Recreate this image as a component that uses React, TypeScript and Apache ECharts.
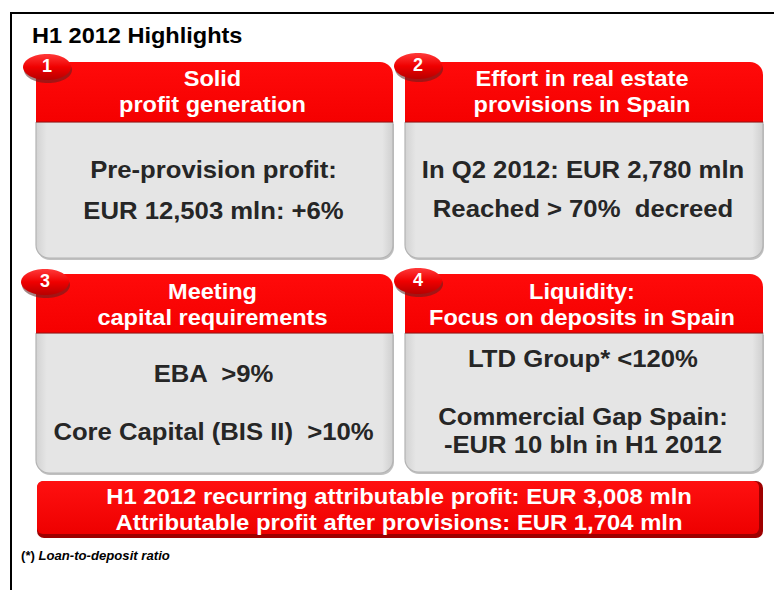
import React, { useEffect, useRef } from "react";
import * as echarts from "echarts";

const titleText = "H1 2012 Highlights";
const badgeNumbers = ["1", "2", "3", "4"];
const headerLines = [
  ["Solid", "profit generation"],
  ["Effort in real estate", "provisions in Spain"],
  ["Meeting", "capital requirements"],
  ["Liquidity:", "Focus on deposits in Spain"],
];
const bodyLines = [
  ["Pre-provision profit:", "EUR 12,503 mln: +6%"],
  ["In Q2 2012: EUR 2,780 mln", "Reached > 70%  decreed"],
  ["EBA  >9%", "Core Capital (BIS II)  >10%"],
  ["LTD Group* <120%", "Commercial Gap Spain:", "-EUR 10 bln in H1 2012"],
];
const bannerLines = [
  "H1 2012 recurring attributable profit: EUR 3,008 mln",
  "Attributable profit after provisions: EUR 1,704 mln",
];
const footnoteMark = "(*)";
const footnoteText = "Loan-to-deposit ratio";

// layout (positions only)
const panels = [
  { x: 36, y: 62, w: 357, hh: 60, bottom: 258, bx: 47, by: 67, headY: [78, 104], bodyY: [170, 211] },
  { x: 405, y: 62, w: 358, hh: 60, bottom: 258, bx: 418, by: 66, headY: [78, 104], bodyY: [170, 209] },
  { x: 36, y: 274, w: 357, hh: 59, bottom: 473, bx: 45, by: 282, headY: [291, 317], bodyY: [374, 432] },
  { x: 405, y: 274, w: 358, hh: 59, bottom: 472, bx: 418, by: 281, headY: [291, 317], bodyY: [359, 417, 445] },
];
const FONT = '"Liberation Sans", Arial, sans-serif';
const SX = 1.07;

export default function App() {
  const ref = useRef<HTMLDivElement>(null);
  useEffect(() => {
    const chart = echarts.init(ref.current!, null, { renderer: "svg" });
    const els: any[] = [];
    const txt = (x: number, y: number, text: string, size: number, color: string, sx = SX) => ({
      type: "text",
      x,
      y,
      scaleX: sx,
      z: 10,
      style: {
        text,
        fill: color,
        fontFamily: FONT,
        fontWeight: "bold",
        fontSize: size,
        align: "center",
        verticalAlign: "middle",
      },
    });

    els.push({
      type: "polyline",
      shape: { points: [[11, 600], [11, 13], [780, 13]] },
      style: { stroke: "#000", lineWidth: 2, fill: null },
    });
    els.push({
      type: "text",
      x: 32,
      y: 35,
      scaleX: SX,
      style: {
        text: titleText,
        fill: "#000",
        fontFamily: FONT,
        fontWeight: "bold",
        fontSize: 22,
        align: "left",
        verticalAlign: "middle",
      },
    });

    panels.forEach((p, i) => {
      const top = p.y + p.hh;
      const h = p.bottom - top;
      els.push({
        type: "rect",
        shape: { x: p.x + 1, y: top + 2, width: p.w, height: h, r: [0, 0, 13, 13] },
        style: { fill: "#8c8c8c", opacity: 0.55 },
      });
      els.push({
        type: "rect",
        shape: { x: p.x, y: top, width: p.w, height: h, r: [0, 0, 13, 13] },
        style: {
          fill: new echarts.graphic.LinearGradient(0, 0, 1, 0, [
            { offset: 0, color: "#d2d2d2" },
            { offset: 0.03, color: "#e5e5e5" },
            { offset: 0.97, color: "#e5e5e5" },
            { offset: 1, color: "#cfcfcf" },
          ]),
          stroke: "#b4b4b4",
          lineWidth: 1.2,
        },
      });
      els.push({
        type: "rect",
        shape: { x: p.x, y: p.y, width: p.w, height: p.hh, r: [0, 13, 0, 0] },
        style: {
          fill: new echarts.graphic.LinearGradient(0, 0, 0, 1, [
            { offset: 0, color: "#ff0a0a" },
            { offset: 1, color: "#f50000" },
          ]),
        },
      });
      els.push({
        type: "line",
        shape: { x1: p.x, y1: top, x2: p.x + p.w, y2: top },
        style: { stroke: "#9a1010", lineWidth: 1 },
      });
      // badge
      els.push({
        type: "ellipse",
        shape: { cx: p.bx + 1, cy: p.by + 3, rx: 24, ry: 13 },
        style: { fill: "#5a2020", opacity: 0.55 },
      });
      els.push({
        type: "ellipse",
        shape: { cx: p.bx, cy: p.by, rx: 24, ry: 13 },
        style: {
          fill: new echarts.graphic.LinearGradient(0, 0, 0, 1, [
            { offset: 0, color: "#ff3a3a" },
            { offset: 0.5, color: "#f00000" },
            { offset: 1, color: "#b80000" },
          ]),
        },
      });
      els.push(txt(p.bx, p.by - 1, badgeNumbers[i], 18, "#fff", 1));
      headerLines[i].forEach((t, k) => els.push(txt(p.x + p.w / 2 - 2, p.headY[k], t, 22, "#fff")));
      bodyLines[i].forEach((t, k) => els.push(txt(p.x + p.w / 2 - 1, p.bodyY[k], t, 24, "#262626")));
    });

    // banner
    els.push({
      type: "rect",
      shape: { x: 37, y: 481, width: 726, height: 57, r: 7 },
      style: { fill: "#9e0000" },
    });
    els.push({
      type: "rect",
      shape: { x: 37, y: 481, width: 722, height: 53, r: 6 },
      style: {
        fill: new echarts.graphic.LinearGradient(0, 0, 0, 1, [
          { offset: 0, color: "#ff1010" },
          { offset: 1, color: "#ee0000" },
        ]),
      },
    });
    bannerLines.forEach((t, k) => els.push(txt(399, 496 + k * 26, t, 22.3, "#fff")));

    // footnote
    els.push({
      type: "text",
      x: 21,
      y: 556,
      scaleX: SX,
      style: {
        text: `{a|${footnoteMark}} {b|${footnoteText}}`,
        align: "left",
        verticalAlign: "middle",
        rich: {
          a: { fontFamily: FONT, fontWeight: "bold", fontSize: 12.3, fill: "#000" },
          b: { fontFamily: FONT, fontWeight: "bold", fontStyle: "italic", fontSize: 12.3, fill: "#000" },
        },
      },
    });

    chart.setOption({ animation: false, graphic: { elements: els } });
    return () => chart.dispose();
  }, []);
  return (
    <div
      ref={ref}
      style={{ position: "absolute", left: 0, top: 0, width: 774, height: 590, background: "#fff" }}
    />
  );
}
